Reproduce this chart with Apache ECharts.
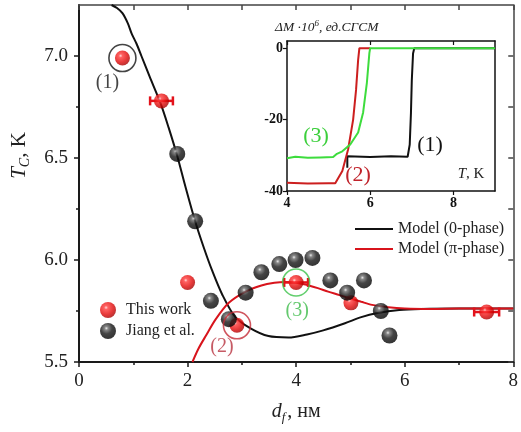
<!DOCTYPE html>
<html><head><meta charset="utf-8">
<script src="https://cdn.jsdelivr.net/npm/echarts@6/dist/echarts.min.js"></script>
<style>html,body{margin:0;padding:0;background:#fff}#c{width:521px;height:432px}</style>
</head><body><div id="c"></div>
<script>
// ---- data ----
const thisWork = [[0.80,6.99],[1.52,6.78],[2.00,5.89],[2.91,5.68],[4.00,5.89],[5.01,5.79],[7.51,5.745]];
const thisWorkErr = [[1.52,6.78,0.21],[4.00,5.89,0.22],[7.51,5.745,0.23]];
const jiang = [[1.81,6.52],[2.14,6.19],[2.43,5.80],[2.76,5.71],[3.07,5.84],[3.36,5.94],[3.69,5.98],[3.99,6.00],[4.30,6.01],[4.63,5.90],[4.94,5.84],[5.25,5.90],[5.56,5.75],[5.72,5.63]];
const model0 = [[0.6,7.25],[0.7,7.235],[0.8,7.21],[0.9,7.16],[0.97,7.11],[1.06,7.06],[1.15,7.0],[1.3,6.9],[1.5,6.77],[1.65,6.65],[1.81,6.51],[1.95,6.37],[2.14,6.19],[2.3,6.06],[2.45,5.95],[2.64,5.83],[2.88,5.72],[3.16,5.665],[3.49,5.627],[3.86,5.62],[4.2,5.635],[4.5,5.655],[4.9,5.69],[5.2,5.72],[5.5,5.74],[5.9,5.755],[6.3,5.76],[7.0,5.762],[8.0,5.762]];
const modelPi = [[2.09,5.5],[2.2,5.565],[2.34,5.63],[2.52,5.71],[2.76,5.79],[3.07,5.845],[3.36,5.875],[3.6,5.888],[3.8,5.892],[4.0,5.889],[4.17,5.88],[4.4,5.862],[4.59,5.845],[4.8,5.828],[4.95,5.815],[5.2,5.795],[5.4,5.78],[5.7,5.768],[6.0,5.762],[6.5,5.76],[7.0,5.762],[8.0,5.762]];
const highlighted = [[0.80,6.99],[2.91,5.68],[4.00,5.89]];
const highlightLabels = ['(1)','(2)','(3)'];
const yMajorTicks = [5.5,6.0,6.5,7.0];
const yMinorTicks = [5.75,6.25,6.75];
const yRightTicks = [5.5,5.75,6.0,6.25,6.5,6.75,7.0];
// inset: ΔM(T)
const inset1 = [[5.45,-33.5],[5.45,-30.3],[6.0,-30.5],[6.5,-30.3],[6.9,-30.4],[6.95,-27],[6.98,-18],[7.0,-9],[7.03,-1.5],[7.06,0],[8,0],[9,0]];
const inset2 = [[4.0,-37.7],[4.5,-37.9],[5.0,-37.8],[5.16,-37.8],[5.33,-34.4],[5.47,-28.3],[5.59,-20],[5.66,-11.7],[5.71,-3.3],[5.74,0],[6.0,0]];
const inset3 = [[4.0,-30.8],[4.2,-30.4],[4.5,-30.7],[4.8,-30.6],[5.11,-30.5],[5.2,-29.6],[5.33,-28.9],[5.52,-27],[5.71,-23.6],[5.83,-18],[5.92,-9.7],[5.98,-1.4],[6.0,0],[7,0],[8,0],[9,0]];
const insetXTicks = [4,6,8];
const insetYTicks = [-40,-20,0];

const SERIF = '"Liberation Serif","DejaVu Serif",serif';
const RED = '#e3121b';
const redBall = {type:'radial',x:0.38,y:0.35,r:0.68,colorStops:[{offset:0,color:'#ffd2d2'},{offset:0.18,color:'#ff3a3a'},{offset:0.65,color:'#e00808'},{offset:1,color:'#a50000'}]};
const blackBall = {type:'radial',x:0.4,y:0.33,r:0.7,colorStops:[{offset:0,color:'#e6e6e6'},{offset:0.16,color:'#6a6a6a'},{offset:0.5,color:'#161616'},{offset:1,color:'#000'}]};
const circleColors = ['#151515','#c42a36','#3cc24a'];
const labelColors = ['#151515','#b8323f','#3dbb4a'];
const labelOffsets = [[-15,25],[-15,21],[1,28]];

const chart = echarts.init(document.getElementById('c'));
const line = (c,w)=>({show:true,onZero:false,lineStyle:{color:c,width:w}});
chart.setOption({
  animation:false,
  backgroundColor:'#fff',
  grid:[
    {left:79,right:4,top:5,bottom:70},
    {left:287,top:41,width:208,height:150,show:true,backgroundColor:'#fff',borderWidth:0,z:10}
  ],
  legend:[
    {left:95,top:297,orient:'vertical',itemGap:5,itemWidth:16,itemHeight:16,icon:'circle',
     textStyle:{fontFamily:SERIF,fontSize:16,color:'#222',padding:[0,0,0,5]},data:['This work','Jiang et al.']},
    {left:350,top:216,orient:'vertical',itemGap:4,itemWidth:38,itemHeight:2,icon:'rect',
     textStyle:{fontFamily:SERIF,fontSize:16,color:'#222'},data:['Model (0-phase)','Model (π-phase)']}
  ],
  xAxis:[
    {gridIndex:0,type:'value',min:0,max:8,interval:2,position:'bottom',splitLine:{show:false},
      axisLine:line('#1a1a1a',2),
      axisTick:{show:true,inside:false,length:5,lineStyle:{color:'#1a1a1a',width:1.5}},
      minorTick:{show:true,splitNumber:2,length:3,lineStyle:{color:'#1a1a1a',width:1.5}},
      axisLabel:{fontFamily:SERIF,fontSize:19,color:'#222',margin:10},
      name:'{i|d}{s|f}{n|, нм}',nameLocation:'middle',nameGap:38,
      nameTextStyle:{rich:{i:{fontFamily:SERIF,fontStyle:'italic',fontSize:20,color:'#222',lineHeight:24},
        s:{fontFamily:SERIF,fontStyle:'italic',fontSize:13,color:'#222',verticalAlign:'bottom',lineHeight:13,padding:[0,2,0,0]},
        n:{fontFamily:SERIF,fontSize:20,color:'#222',lineHeight:24}}}},
    {gridIndex:0,type:'value',min:0,max:8,interval:1,position:'top',splitLine:{show:false},
      axisLine:line('#444',1.5),
      axisTick:{show:true,inside:true,length:5,lineStyle:{color:'#444',width:1.5}},axisLabel:{show:false}},
    {gridIndex:1,type:'value',min:4,max:9,position:'bottom',z:11,splitLine:{show:false},
      axisLine:line('#111',1.5),
      axisTick:{show:true,inside:false,length:4,customValues:insetXTicks,lineStyle:{color:'#111',width:1.2}},
      axisLabel:{fontFamily:SERIF,fontSize:14,fontWeight:'bold',color:'#111',margin:5,customValues:insetXTicks}},
    {gridIndex:1,type:'value',min:4,max:9,position:'top',z:11,splitLine:{show:false},
      axisLine:line('#111',1.5),
      axisTick:{show:true,inside:true,length:4,customValues:insetXTicks,lineStyle:{color:'#111',width:1.2}},axisLabel:{show:false}}
  ],
  yAxis:[
    {gridIndex:0,type:'value',min:5.5,max:7.25,position:'left',splitLine:{show:false},
      axisLine:line('#1a1a1a',2),
      axisTick:{show:true,inside:false,length:5,customValues:yMajorTicks,lineStyle:{color:'#1a1a1a',width:1.5}},
      axisLabel:{fontFamily:SERIF,fontSize:19,color:'#222',margin:11,customValues:yMajorTicks,formatter:v=>v.toFixed(1)},
      name:'{i|T}{s|C}{n|, K}',nameLocation:'middle',nameGap:47,nameRotate:90,
      nameTextStyle:{padding:[0,0,0,56],rich:{i:{fontFamily:SERIF,fontStyle:'italic',fontSize:21,color:'#222',lineHeight:25},
        s:{fontFamily:SERIF,fontStyle:'italic',fontSize:14,color:'#222',verticalAlign:'bottom',lineHeight:14},
        n:{fontFamily:SERIF,fontSize:21,color:'#222',lineHeight:25}}}},
    {gridIndex:0,type:'value',min:5.5,max:7.25,position:'right',splitLine:{show:false},
      axisLine:line('#444',1.5),
      axisTick:{show:true,inside:true,length:5,customValues:yRightTicks,lineStyle:{color:'#444',width:1.5}},axisLabel:{show:false}},
    {gridIndex:0,type:'value',min:5.5,max:7.25,position:'left',splitLine:{show:false},
      axisLine:{show:false},
      axisTick:{show:true,inside:false,length:3,customValues:yMinorTicks,lineStyle:{color:'#1a1a1a',width:1.5}},axisLabel:{show:false}},
    {gridIndex:1,type:'value',min:-40,max:2,position:'left',z:11,splitLine:{show:false},
      axisLine:line('#111',1.5),
      axisTick:{show:true,inside:false,length:4,customValues:insetYTicks,lineStyle:{color:'#111',width:1.2}},
      axisLabel:{fontFamily:SERIF,fontSize:14,fontWeight:'bold',color:'#111',margin:4,customValues:insetYTicks}},
    {gridIndex:1,type:'value',min:-40,max:2,position:'right',z:11,splitLine:{show:false},
      axisLine:line('#111',1.5),
      axisTick:{show:false},axisLabel:{show:false}}
  ],
  series:[
    {name:'Model (0-phase)',type:'line',xAxisIndex:0,yAxisIndex:0,data:model0,smooth:0.3,symbol:'none',
      lineStyle:{color:'#111',width:2},itemStyle:{color:'#111'},z:2,clip:true},
    {name:'Model (π-phase)',type:'line',xAxisIndex:0,yAxisIndex:0,data:modelPi,smooth:0.3,symbol:'none',
      lineStyle:{color:'#d8141c',width:2},itemStyle:{color:'#d8141c'},z:2,clip:true},
    {type:'custom',xAxisIndex:0,yAxisIndex:0,data:thisWorkErr,z:3,
      renderItem:function(params,api){
        const x=api.value(0),y=api.value(1),e=api.value(2);
        const a=api.coord([x-e,y]),b=api.coord([x+e,y]);const c=4.5;
        const st={stroke:RED,lineWidth:2.5};
        return {type:'group',children:[
          {type:'line',shape:{x1:a[0],y1:a[1],x2:b[0],y2:b[1]},style:st},
          {type:'line',shape:{x1:a[0],y1:a[1]-c,x2:a[0],y2:a[1]+c},style:st},
          {type:'line',shape:{x1:b[0],y1:b[1]-c,x2:b[0],y2:b[1]+c},style:st}]};
      }},
    {name:'This work',type:'scatter',xAxisIndex:0,yAxisIndex:0,data:thisWork,symbolSize:15,itemStyle:{color:redBall},z:4},
    {name:'Jiang et al.',type:'scatter',xAxisIndex:0,yAxisIndex:0,data:jiang,symbolSize:16,itemStyle:{color:blackBall},z:5},
    {type:'scatter',xAxisIndex:0,yAxisIndex:0,z:6,symbolSize:27,silent:true,
      data:highlighted.map((p,i)=>({value:p,
        itemStyle:{color:'rgba(0,0,0,0)',borderColor:circleColors[i],borderWidth:1.6},
        label:{show:true,position:'inside',formatter:highlightLabels[i],offset:labelOffsets[i],
          fontFamily:SERIF,fontSize:20,color:labelColors[i]}}))},
    // inset
    {type:'line',xAxisIndex:2,yAxisIndex:3,data:inset1,symbol:'none',lineStyle:{color:'#111',width:2},z:12},
    {type:'line',xAxisIndex:2,yAxisIndex:3,data:inset2,symbol:'none',lineStyle:{color:'#cc1f1f',width:2},z:13},
    {type:'line',xAxisIndex:2,yAxisIndex:3,data:inset3,symbol:'none',lineStyle:{color:'#3ddc3d',width:2},z:14}
  ],
  graphic:[
    {type:'text',z:20,style:{x:275,y:27,text:'{a|ΔM ·10}{p|6}{a|, ед.СГСМ}',verticalAlign:'middle',
      rich:{a:{fontFamily:SERIF,fontStyle:'italic',fontSize:13.5,fill:'#222',lineHeight:16},
            p:{fontFamily:SERIF,fontStyle:'italic',fontSize:9,fill:'#222',verticalAlign:'top',lineHeight:9}}}},
    {type:'text',z:20,style:{x:471,y:174,text:'{i|T}{n|, K}',align:'center',verticalAlign:'middle',
      rich:{i:{fontFamily:SERIF,fontStyle:'italic',fontSize:15,fill:'#222'},n:{fontFamily:SERIF,fontSize:15,fill:'#222'}}}},
    {type:'text',z:20,style:{x:430,y:145,text:'(1)',align:'center',verticalAlign:'middle',font:'22px '+SERIF,fill:'#111'}},
    {type:'text',z:20,style:{x:358,y:175,text:'(2)',align:'center',verticalAlign:'middle',font:'22px '+SERIF,fill:'#c0232b'}},
    {type:'text',z:20,style:{x:316,y:136,text:'(3)',align:'center',verticalAlign:'middle',font:'22px '+SERIF,fill:'#3ccf3c'}}
  ]
});
</script></body></html>
